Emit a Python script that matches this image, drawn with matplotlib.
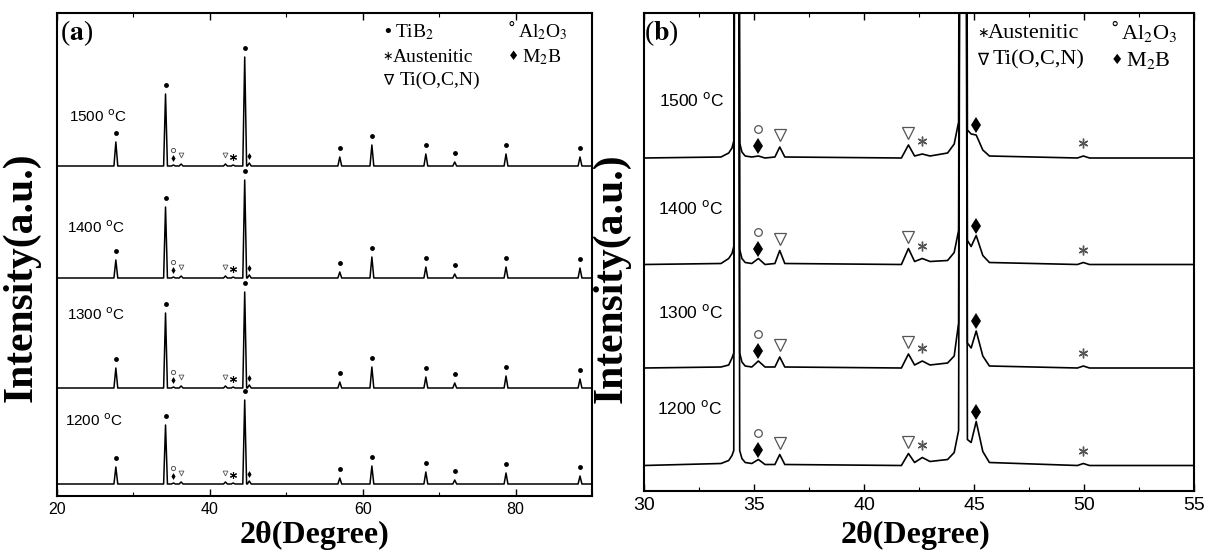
import numpy as np
import matplotlib
matplotlib.use('Agg')
import matplotlib.pyplot as plt
from matplotlib.ticker import MultipleLocator

plt.rcParams['font.family'] = ['Liberation Sans', 'DejaVu Sans']
plt.rcParams['mathtext.fontset'] = 'stix'

temps = ['1500', '1400', '1300', '1200']

# ---- panel (a): full scan, peak positions (2theta) and heights (a.u.)
a_pos = [27.7, 34.2, 35.23, 36.24, 42.04, 43.05, 44.56, 45.16,
         57.0, 61.2, 68.26, 72.04, 78.75, 88.43]
a_int_1500 = [24, 72, 1, 2, 2, 1, 109, 3, 9, 21, 12, 4, 12, 9]
a_int_1400 = [18, 71, 1, 2, 2, 1, 98, 3, 6, 21, 11, 4, 11, 10]
a_int_1300 = [20, 75, 1, 2, 2, 1, 96, 3, 6, 21, 11, 5, 12, 9]
a_int_1200 = [17, 59, 1, 2, 2, 1, 84, 3, 6, 18, 12, 4, 11, 8]

a_tib2 = [27.7, 34.2, 44.56, 57.0, 61.2, 68.26, 72.04, 78.75, 88.43]
a_al2o3 = [35.23]
a_m2b = [35.23, 45.16]
a_tiocn = [36.24, 42.04]
a_aust = [43.05]

# ---- panel (b): 30-55 detail, pattern vertices
b_x = [30.0, 33.5, 33.85, 34.0, 34.08, 34.2, 34.35, 34.45, 34.6, 34.9,
       35.2, 35.5, 35.95, 36.17, 36.4, 41.7, 42.02, 42.3, 42.65, 43.0,
       43.8, 44.1, 44.3, 44.5, 44.7, 44.87, 45.1, 45.4, 45.7, 49.7,
       49.97, 50.25, 55.0]
b_int_1500 = [0, 1, 5, 10, 17, 2000, 15, 6, 2, 1, 2, 0, 1, 11, 1, 0, 13, 2, 4, 2,
              5, 14, 36, 2000, 28, 24, 23, 8, 2, 0, 2, 0, 0]
b_int_1400 = [0, 1, 6, 11, 18, 2000, 15, 6, 2, 1, 6, 0, 1, 14, 1, 0, 16, 3, 6, 3,
              4, 12, 34, 2000, 24, 18, 29, 9, 2, 0, 2, 0, 0]
b_int_1300 = [0, 1, 3, 10, 15, 2000, 15, 6, 2, 1, 7, 1, 1, 11, 1, 0, 14, 3, 7, 3,
              5, 12, 45, 2000, 25, 20, 37, 12, 2, 0, 2, 0, 0]
b_int_1200 = [0, 2, 5, 10, 15, 2000, 15, 7, 3, 2, 6, 1, 1, 11, 1, 0, 12, 3, 8, 4,
              6, 13, 35, 2000, 26, 23, 44, 14, 3, 0, 2, 0, 0]

b_al2o3 = [35.2]
b_m2b = [35.2, 45.1]
b_tiocn = [36.17, 42.02]
b_aust = [42.65, 49.97]

# vertical offsets of the stacked patterns, label positions
a_offset = [330, 218, 108, 12]
b_offset = [333, 226.5, 123, 25.5]
a_lab = [(21.6, 379), (21.3, 268), (21.3, 181), (21.1, 75)]
b_lab = [(30.66, 391), (30.62, 283), (30.62, 179), (30.57, 83)]


def stick_profile(pos, hts, lo, hi, w=0.25):
    xs, ys = [lo], [0]
    for c, h in zip(pos, hts):
        xs += [c - w, c, c + w]
        ys += [0, h, 0]
    xs.append(hi)
    ys.append(0)
    return np.array(xs), np.array(ys, dtype=float)


gray = '#555555'
fig = plt.figure(figsize=(12.11, 5.53), dpi=100)
axa = fig.add_axes([57/1211, 57/553, 535/1211, 483/553])
axb = fig.add_axes([644/1211, 62/553, 550/1211, 478/553])

# ---------------- (a)
a_sets = [a_int_1500, a_int_1400, a_int_1300, a_int_1200]
for hts, off, t, (lx, ly) in zip(a_sets, a_offset, temps, a_lab):
    xs, ys = stick_profile(a_pos, hts, 20, 90)
    axa.plot(xs, ys + off, color='k', lw=1.1)
    h = lambda p: np.interp(p, xs, ys) + off
    axa.plot(a_tib2, [h(p) + 9 for p in a_tib2], 'o', color='k', ms=3.5, mew=0)
    axa.plot(a_m2b, [h(p) + 7 for p in a_m2b], 'd', color='k', ms=3.5, mew=0)
    axa.plot(a_al2o3, [h(p) + 15 for p in a_al2o3], 'o', mfc='none', mec=gray, ms=3, mew=0.7)
    axa.plot(a_tiocn, [h(p) + 9 for p in a_tiocn], 'v', mfc='none', mec=gray, ms=3.5, mew=0.6)
    axa.plot(a_aust, [h(p) + 8 for p in a_aust], marker=(6, 2, 0), ls='none', color='k', ms=5, mew=0.8)
    axa.text(lx, ly, t + ' $^{\\mathrm{o}}$C', fontsize=11, va='center', ha='left',
             math_fontfamily='dejavusans')

axa.set_xlim(20, 90)
axa.set_ylim(0, 483)
axa.set_xticks([20, 40, 60, 80])
axa.xaxis.set_minor_locator(MultipleLocator(10))
axa.tick_params(axis='x', which='major', direction='in', top=True, length=5, width=1,
                labelsize=11.5, pad=4)
axa.tick_params(axis='x', which='minor', direction='in', top=True, length=3, width=0.8)
axa.set_yticks([])
axa.set_xlabel('2θ(Degree)', family='Liberation Serif', fontweight='bold', fontsize=23)
axa.xaxis.set_label_coords(0.482, -0.052)
axa.set_ylabel('Intensity(a.u.)', family='Liberation Serif', fontweight='bold', fontsize=30)
axa.yaxis.set_label_coords(-0.03, 0.454)
axa.text(0.005, 0.958, r'($\mathbf{a}$)', transform=axa.transAxes, fontsize=20,
         family='Liberation Serif', va='center', ha='left')

# legend (a)
sym = dict(family='DejaVu Sans', va='center', ha='left', color='k')
lab = dict(family='Liberation Serif', va='center', ha='left', fontsize=14)
axa.text(62.5, 464, '•', fontsize=13, **sym)
axa.text(64.2, 464, r'TiB$_2$', **lab)
axa.text(79.0, 468, '°', fontsize=11, **sym)
axa.text(80.3, 464, r'Al$_2$O$_3$', **lab)
axa.text(62.6, 439, '∗', fontsize=9, **sym)
axa.text(64.0, 439, 'Austenitic', **lab)
axa.text(79.0, 439, '♦', fontsize=9, **sym)
axa.text(80.8, 439, r'M$_2$B', **lab)
axa.text(62.6, 416, '∇', fontsize=11, **sym)
axa.text(64.9, 416, 'Ti(O,C,N)', **lab)

# ---------------- (b)
b_sets = [b_int_1500, b_int_1400, b_int_1300, b_int_1200]
for hts, off, t, (lx, ly) in zip(b_sets, b_offset, temps, b_lab):
    ys = np.array(hts, dtype=float)
    axb.plot(b_x, ys + off, color='k', lw=1.2)
    h = lambda p: np.interp(p, b_x, ys) + off
    axb.plot(b_m2b, [h(p) + 10 for p in b_m2b], 'd', color='k', ms=8, mew=0)
    axb.plot(b_al2o3, [h(p) + 27 for p in b_al2o3], 'o', mfc='none', mec=gray, ms=5.5, mew=0.9)
    axb.plot(b_tiocn, [h(p) + 12 for p in b_tiocn], 'v', mfc='none', mec=gray, ms=8, mew=0.9)
    axb.plot(b_aust, [h(p) + 13 for p in b_aust], marker=(6, 2, 0), ls='none', color=gray,
             ms=7, mew=1.0)
    axb.text(lx, ly, t + ' $^{\\mathrm{o}}$C', fontsize=12.5, va='center', ha='left',
             math_fontfamily='dejavusans')

axb.set_xlim(30, 55)
axb.set_ylim(0, 478)
axb.set_xticks([30, 35, 40, 45, 50, 55])
axb.xaxis.set_minor_locator(MultipleLocator(2.5))
axb.tick_params(axis='x', which='major', direction='in', top=True, length=5, width=1,
                labelsize=14, pad=4)
axb.tick_params(axis='x', which='minor', direction='in', top=True, length=3, width=0.8)
axb.set_yticks([])
axb.set_xlabel('2θ(Degree)', family='Liberation Serif', fontweight='bold', fontsize=23)
axb.xaxis.set_label_coords(0.494, -0.062)
axb.set_ylabel('Intensity(a.u.)', family='Liberation Serif', fontweight='bold', fontsize=30)
axb.yaxis.set_label_coords(-0.025, 0.446)
axb.text(0.0, 0.958, r'($\mathbf{b}$)', transform=axb.transAxes, fontsize=20,
         family='Liberation Serif', va='center', ha='left')

# legend (b)
lab['fontsize'] = 16
axb.text(45.15, 458, '∗', fontsize=10, **sym)
axb.text(45.62, 458, 'Austenitic', **lab)
axb.text(51.2, 462, '°', fontsize=12, **sym)
axb.text(51.69, 458, r'Al$_2$O$_3$', **lab)
axb.text(45.15, 431, '∇', fontsize=12, **sym)
axb.text(45.85, 431, 'Ti(O,C,N)', **lab)
axb.text(51.2, 431, '♦', fontsize=10, **sym)
axb.text(51.9, 431, r'M$_2$B', **lab)

for ax in (axa, axb):
    for s in ax.spines.values():
        s.set_linewidth(1.5)

fig.savefig('out.png', dpi=100)
